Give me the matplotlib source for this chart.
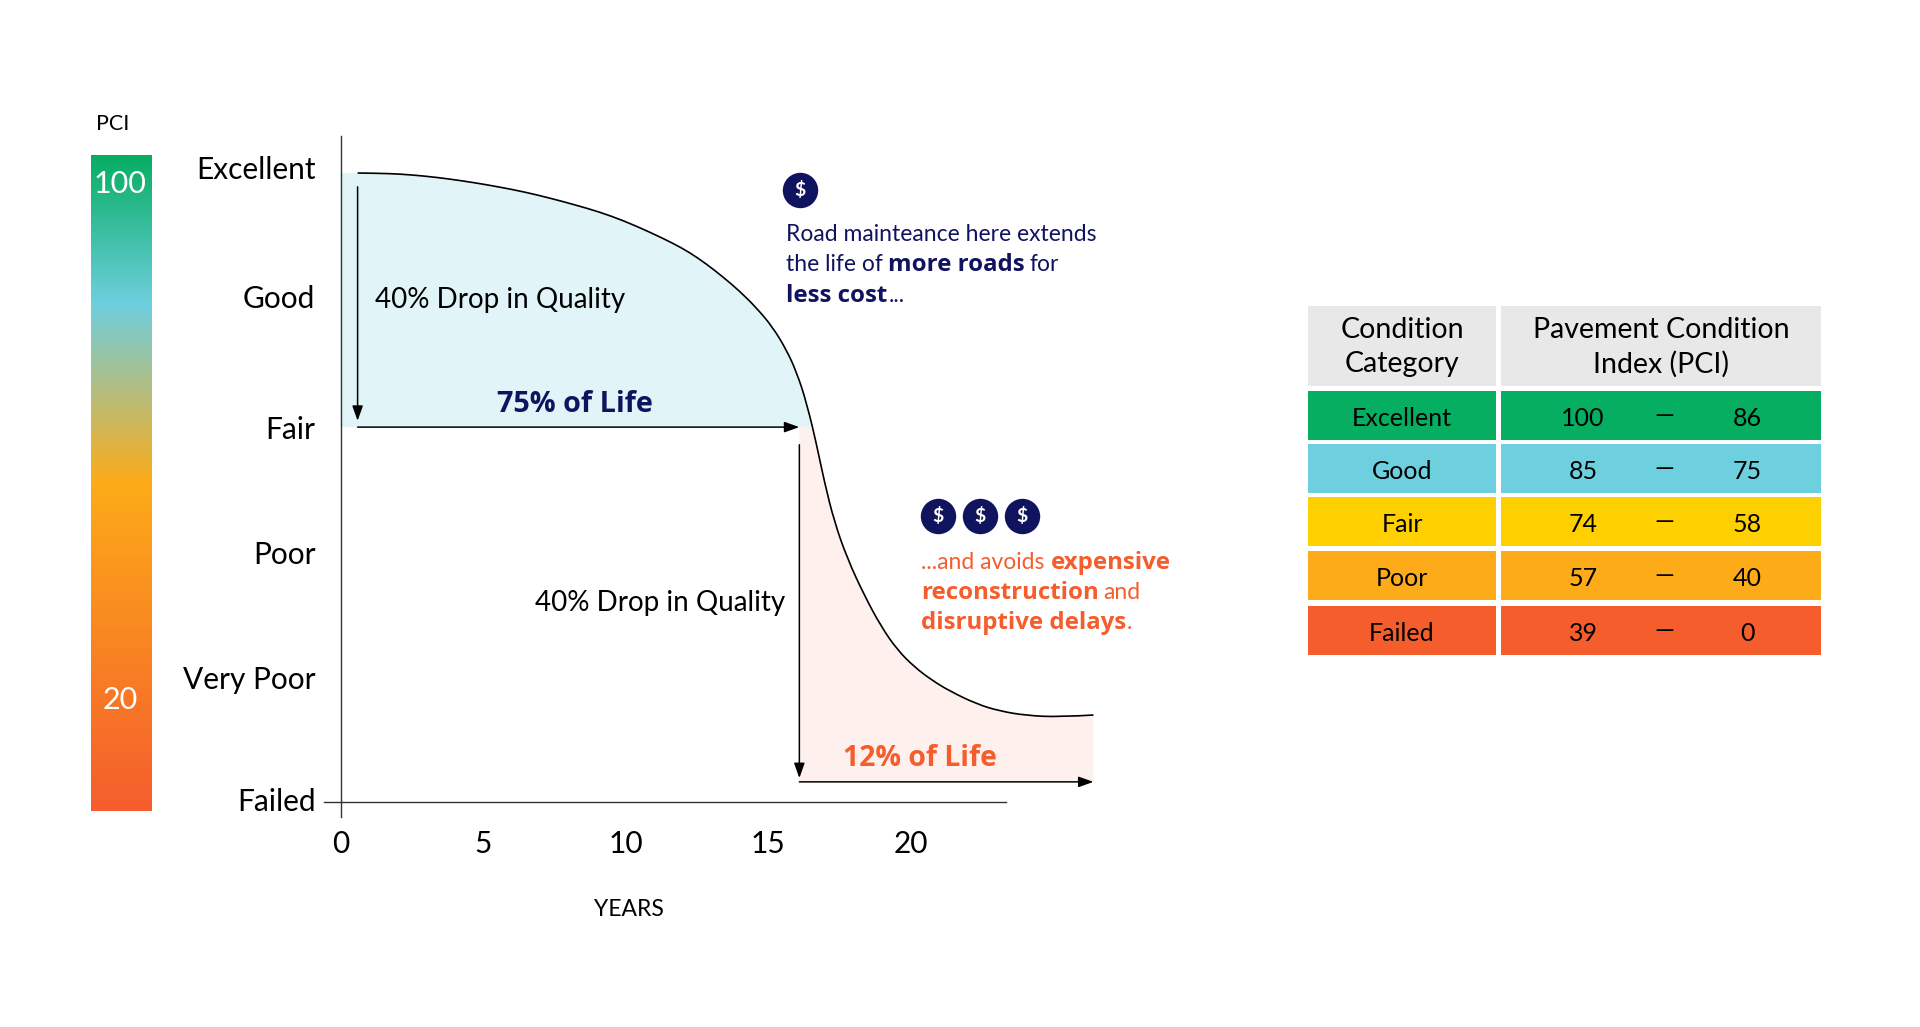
import matplotlib
matplotlib.use("Agg")
from matplotlib import pyplot as plt
from matplotlib.colors import LinearSegmentedColormap
from matplotlib.patches import PathPatch
from matplotlib.path import Path
import numpy as np

plt.rcParams['font.family'] = ['Lato', 'DejaVu Sans']

W, H = 1920, 1027

NAVY = '#10145F'
ORANGE = '#F55D2D'
HEAVY = ['Open Sans', 'DejaVu Sans']

# curve
years = [0.6, 1.37, 2.07, 2.95, 3.82, 4.7, 5.58, 6.46, 7.33, 8.21, 9.09, 9.96, 10.84, 11.65, 12.25, 12.84, 13.4, 14.0,
         14.6, 15.16, 15.65, 16.0, 16.35, 16.56, 16.7, 16.98, 17.33, 17.79, 18.39, 18.98, 19.54, 20.14,
         20.74, 21.37, 22.32, 23.12, 24.07, 25.23, 26.42]
pci = [100.0, 99.95, 99.84, 99.52, 99.05, 98.46, 97.77, 96.98, 96.03, 94.96, 93.8, 92.37, 90.62, 88.87, 87.36, 85.53,
       83.55, 81.24, 78.54, 75.52, 71.86, 68.36, 63.59, 59.6, 56.92, 50.87, 44.52, 38.63, 32.75, 27.82, 24.17, 21.46,
       19.4, 17.65, 15.58, 14.47, 13.75, 13.51, 13.83]

year_ticks = [0, 5, 10, 15, 20]
category_ticks = [100.8, 80.4, 59.6, 39.6, 19.8, 0.4]
category_labels = ['Excellent', 'Good', 'Fair', 'Poor', 'Very Poor', 'Failed']

# gradient of the PCI bar, top to bottom
bar_stops = [0.0, 0.226, 0.5, 1.0]
bar_colors = ['#06AE62', '#6ECFDF', '#FDAB18', '#F55D2D']

table_categories = ['Excellent', 'Good', 'Fair', 'Poor', 'Failed']
table_high = [100, 85, 74, 57, 39]
table_low = [86, 75, 58, 40, 0]
table_colors = ['#06AE62', '#6ECFDF', '#FFD000', '#FDAB18', '#F55D2D']


def px_axes(left, top, right, bottom):
    return fig.add_axes([left / W, 1 - bottom / H, (right - left) / W, (bottom - top) / H])


def smooth(xs, ys):
    # quadratic spline with the read points as control points, so the line has no corners
    verts = [(xs[0], ys[0])]
    codes = []
    for i in range(1, len(xs) - 1):
        verts.append((xs[i], ys[i]))
        if i < len(xs) - 2:
            verts.append(((xs[i] + xs[i + 1]) / 2, (ys[i] + ys[i + 1]) / 2))
        else:
            verts.append((xs[i + 1], ys[i + 1]))
        codes += [Path.CURVE3, Path.CURVE3]
    return verts, codes


def runs(x, y, parts, color, size):
    # mixed regular and bold text on one baseline, parts are (text, heavy, gap after)
    renderer = fig.canvas.get_renderer()
    for text, heavy, gap in parts:
        if heavy:
            t = overlay.text(x, y, text, color=color, fontsize=size + 0.8, fontweight='bold', family=HEAVY)
        else:
            t = overlay.text(x, y, text, color=color, fontsize=size)
        x += t.get_window_extent(renderer).width + gap


fig = plt.figure(figsize=(W / 100, H / 100), dpi=100)

# chart, one year is 28.5 px and one PCI point 6.29 px
ax = px_axes(324, 136, 1006, 817)
ax.set_xlim(-16.5 / 28.5, 665.5 / 28.5)
ax.set_ylim(-15 / 6.29, 666 / 6.29)

split = years.index(16.56)
up_verts, up_codes = smooth(years[:split + 1], pci[:split + 1])
low_verts, low_codes = smooth(years[split:], pci[split:])

blue = Path([(0, 100)] + up_verts + [(0, 59.6), (0, 100)],
            [Path.MOVETO, Path.LINETO] + up_codes + [Path.LINETO, Path.CLOSEPOLY])
ax.add_patch(PathPatch(blue, facecolor='#E1F5F8', lw=0, clip_on=False))
pink = Path([(16.1, 59.6)] + low_verts + [(26.42, 3.2), (16.1, 3.2), (16.1, 59.6)],
            [Path.MOVETO, Path.LINETO] + low_codes + [Path.LINETO, Path.LINETO, Path.CLOSEPOLY])
ax.add_patch(PathPatch(pink, facecolor='#FDF0ED', lw=0, clip_on=False))
line = Path(up_verts + low_verts[1:], [Path.MOVETO] + up_codes + low_codes)
ax.add_patch(PathPatch(line, facecolor='none', edgecolor='black', lw=1.2, clip_on=False))

arrow = dict(arrowstyle='-|>,head_length=0.9,head_width=0.32', color='black', lw=1.1, shrinkA=0, shrinkB=0)
for start, end in [((0.6, 97.8), (0.6, 60.6)), ((0.6, 59.6), (16.1, 59.6)),
                   ((16.1, 56.8), (16.1, 3.8)), ((16.1, 3.2), (26.42, 3.2))]:
    ax.annotate('', xy=end, xytext=start, arrowprops=arrow, annotation_clip=False)

for side in ['top', 'right']:
    ax.spines[side].set_visible(False)
ax.spines['left'].set_position(('data', 0))
ax.spines['bottom'].set_position(('data', 0))
for side in ['left', 'bottom']:
    ax.spines[side].set_color('#333333')
    ax.spines[side].set_linewidth(1.0)
ax.patch.set_alpha(0)
ax.set_xticks(year_ticks)
ax.set_yticks(category_ticks)
ax.set_yticklabels(category_labels)
ax.tick_params(axis='both', length=0, labelsize=21.5)
ax.tick_params(axis='x', pad=20)
ax.tick_params(axis='y', pad=18)

# PCI gradient bar
bar_ax = px_axes(91, 155, 152, 811)
cmap = LinearSegmentedColormap.from_list('pci', list(zip(bar_stops, bar_colors)))
bar_ax.imshow(np.linspace(0, 1, 512).reshape(-1, 1), cmap=cmap, aspect='auto')
bar_ax.axis('off')

# table
table_ax = px_axes(1308, 306, 1821, 655)
table_ax.set_xlim(1308, 1821)
table_ax.set_ylim(655, 306)
table_ax.axis('off')
row_tops = [391, 444, 497, 551, 606]
row_height = 49
for i, color in enumerate(table_colors):
    table_ax.barh(row_tops[i], 188, left=1308, height=row_height, align='edge', color=color)
    table_ax.barh(row_tops[i], 320, left=1501, height=row_height, align='edge', color=color)
    cy = row_tops[i] + row_height / 2 + 3
    table_ax.text(1402, cy, table_categories[i], ha='center', va='center', fontsize=18)
    table_ax.text(1583, cy, str(table_high[i]), ha='center', va='center', fontsize=18)
    table_ax.text(1664, cy - 3, '\u2014', ha='center', va='center', fontsize=18)
    table_ax.text(1747, cy, str(table_low[i]), ha='center', va='center', fontsize=18)
table_ax.barh(306, 188, left=1308, height=80, align='edge', color='#E8E8E8')
table_ax.barh(306, 320, left=1501, height=80, align='edge', color='#E8E8E8')
table_ax.text(1402, 347, 'Condition\nCategory', ha='center', va='center', fontsize=20.5, linespacing=1.35)
table_ax.text(1661, 347, 'Pavement Condition\nIndex (PCI)', ha='center', va='center', fontsize=20.5, linespacing=1.35)

# everything else sits on an overlay in pixel units
overlay = px_axes(0, 0, W, H)
overlay.set_xlim(0, W)
overlay.set_ylim(H, 0)
overlay.axis('off')
overlay.patch.set_alpha(0)

overlay.text(113, 124, 'PCI', ha='center', va='center', fontsize=15.5)
overlay.text(120, 184, '100', ha='center', va='center', fontsize=22, color='white')
overlay.text(120, 700, '20', ha='center', va='center', fontsize=22, color='white')
overlay.text(629, 910, 'YEARS', ha='center', va='center', fontsize=16.5)

overlay.text(375, 300, '40% Drop in Quality', ha='left', va='center', fontsize=20)
overlay.text(785, 603, '40% Drop in Quality', ha='right', va='center', fontsize=20)
overlay.text(497, 412, '75% of Life', color=NAVY, fontsize=20.7, fontweight='bold', family=HEAVY)
overlay.text(843, 766, '12% of Life', color=ORANGE, fontsize=20.4, fontweight='bold', family=HEAVY)

coin_x = [800, 938, 980, 1022]
coin_y = [190, 516, 516, 516]
overlay.scatter(coin_x, coin_y, s=650, color=NAVY, lw=0)
for x, y in zip(coin_x, coin_y):
    overlay.text(x, y, '$', color='white', ha='center', va='center', fontsize=14, fontweight='bold')

runs(786, 241, [('Road mainteance here extends', False, 0)], NAVY, 16.5)
runs(786, 271, [('the life of', False, 5), ('more roads', True, 5), ('for', False, 0)], NAVY, 16.5)
runs(786, 302, [('less cost', True, 1), ('...', False, 0)], NAVY, 16.5)
runs(921, 569, [('...and avoids', False, 6), ('expensive', True, 0)], ORANGE, 16.5)
runs(921, 599, [('reconstruction', True, 5), ('and', False, 0)], ORANGE, 16.5)
runs(921, 629, [('disruptive delays', True, 1), ('.', False, 0)], ORANGE, 16.5)

plt.savefig('out.png', dpi=100)
